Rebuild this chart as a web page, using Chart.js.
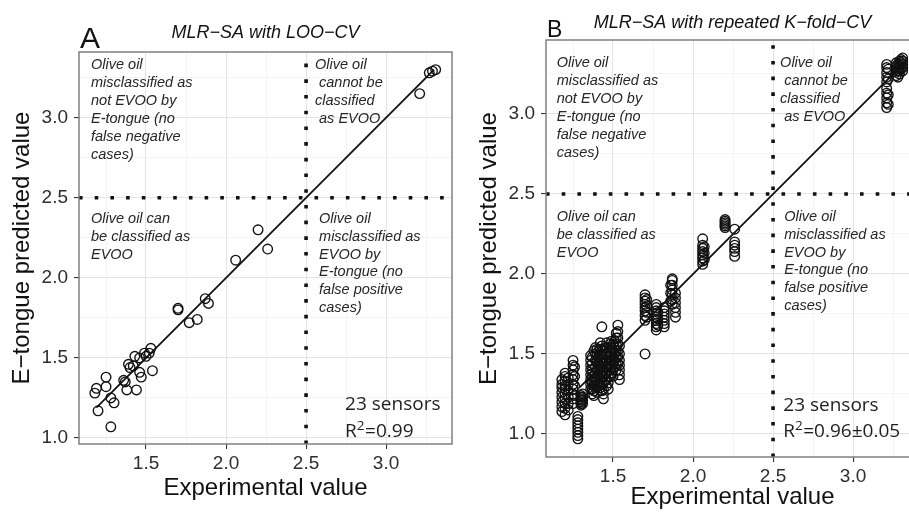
<!DOCTYPE html>
<html>
<head>
<meta charset="utf-8">
<script src="https://cdn.jsdelivr.net/npm/chart.js@4.4.1/dist/chart.umd.min.js"></script>
<style>
  html, body { margin: 0; padding: 0; background: #fff; overflow: hidden; }
  #wrap { position: relative; width: 909px; height: 512px; overflow: hidden; }
  #panelA { position: absolute; left: 0; top: 0; }
  #panelB { position: absolute; left: 467px; top: 0; }
</style>
</head>
<body>
<div id="wrap">
  <canvas id="panelA" width="460" height="512"></canvas>
  <canvas id="panelB" width="460" height="512"></canvas>
</div>
<script>
// A: leave-one-out predictions, one per sample
const looX = [1.18, 1.19, 1.20, 1.25, 1.25, 1.28, 1.28, 1.30, 1.36, 1.37, 1.38, 1.39, 1.40, 1.42, 1.43, 1.44, 1.46, 1.46, 1.47, 1.49,
  1.50, 1.52, 1.53, 1.54, 1.70, 1.70, 1.77, 1.82, 1.87, 1.89, 2.06, 2.20, 2.26, 3.21, 3.27, 3.29, 3.31];
const looY = [1.28, 1.31, 1.17, 1.38, 1.32, 1.25, 1.07, 1.22, 1.36, 1.35, 1.30, 1.46, 1.44, 1.45, 1.51, 1.30, 1.50, 1.41, 1.38, 1.53,
  1.51, 1.53, 1.56, 1.42, 1.80, 1.81, 1.72, 1.74, 1.87, 1.84, 2.11, 2.30, 2.18, 3.15, 3.28, 3.29, 3.30];

// B: repeated k-fold, a column of predictions for each sample
const kfoldX = [1.18, 1.20, 1.22, 1.25, 1.26, 1.28, 1.30, 1.31, 1.36, 1.37, 1.38, 1.39, 1.40, 1.41, 1.42, 1.43, 1.44, 1.45,
  1.46, 1.47, 1.48, 1.49, 1.50, 1.51, 1.52, 1.53, 1.54, 1.70, 1.71, 1.77, 1.78, 1.82, 1.86, 1.87, 1.89, 2.06, 2.07,
  2.20, 2.26, 3.21, 3.22, 3.27, 3.28, 3.29, 3.30, 3.31];
const kfoldY = [
  [1.14, 1.17, 1.20, 1.23, 1.26, 1.29, 1.31, 1.34],
  [1.12, 1.16, 1.19, 1.22, 1.25, 1.28, 1.30, 1.33, 1.36, 1.38],
  [1.15, 1.19, 1.23, 1.27, 1.31, 1.35],
  [1.19, 1.22, 1.25, 1.28, 1.31, 1.34, 1.37, 1.40, 1.43, 1.46],
  [1.24, 1.30, 1.36, 1.42],
  [0.97, 0.99, 1.01, 1.03, 1.05, 1.07, 1.09, 1.11],
  [1.18, 1.19, 1.20, 1.21, 1.22, 1.23, 1.24],
  [1.19, 1.21, 1.23, 1.25],
  [1.28, 1.31, 1.34, 1.37, 1.40, 1.43, 1.46, 1.49],
  [1.25, 1.28, 1.32, 1.36, 1.40, 1.44, 1.48],
  [1.24, 1.27, 1.30, 1.33, 1.36, 1.52],
  [1.30, 1.34, 1.38, 1.42, 1.46, 1.50, 1.54],
  [1.26, 1.30, 1.35, 1.40, 1.45, 1.49, 1.53],
  [1.32, 1.36, 1.40, 1.44, 1.48, 1.52],
  [1.29, 1.33, 1.37, 1.41, 1.45, 1.49, 1.53, 1.57],
  [1.27, 1.31, 1.36, 1.40, 1.44, 1.48, 1.52, 1.55, 1.67],
  [1.22, 1.25, 1.28, 1.32, 1.36, 1.40, 1.45],
  [1.34, 1.38, 1.42, 1.46, 1.50, 1.54],
  [1.30, 1.34, 1.38, 1.42, 1.46, 1.50, 1.54, 1.57],
  [1.28, 1.32, 1.36, 1.40, 1.44, 1.48],
  [1.36, 1.40, 1.44, 1.48, 1.52, 1.56],
  [1.38, 1.42, 1.46, 1.50, 1.54, 1.58],
  [1.36, 1.40, 1.44, 1.48, 1.52, 1.56],
  [1.42, 1.46, 1.50, 1.54, 1.58],
  [1.40, 1.44, 1.48, 1.52, 1.56, 1.60, 1.63],
  [1.44, 1.48, 1.52, 1.56, 1.60, 1.64, 1.68],
  [1.34, 1.37, 1.40, 1.43, 1.46, 1.50, 1.55],
  [1.50, 1.71, 1.74, 1.77, 1.79, 1.81, 1.83, 1.85, 1.87],
  [1.73, 1.76, 1.80, 1.84],
  [1.65, 1.67, 1.69, 1.71, 1.73, 1.75, 1.77, 1.79, 1.81],
  [1.68, 1.72, 1.76],
  [1.67, 1.69, 1.71, 1.73, 1.75, 1.77, 1.79],
  [1.83, 1.88, 1.93],
  [1.81, 1.84, 1.87, 1.90, 1.93, 1.96, 1.97],
  [1.73, 1.76, 1.79, 1.82, 1.85, 1.88],
  [2.06, 2.08, 2.10, 2.12, 2.14, 2.16, 2.18, 2.22],
  [2.09, 2.13, 2.17],
  [2.29, 2.30, 2.31, 2.32, 2.33, 2.34],
  [2.11, 2.14, 2.16, 2.18, 2.20, 2.28],
  [3.04, 3.07, 3.10, 3.13, 3.16, 3.20, 3.23, 3.26, 3.29, 3.31],
  [3.06, 3.12, 3.22, 3.28],
  [3.24, 3.26, 3.28, 3.30, 3.32],
  [3.23, 3.27, 3.31],
  [3.25, 3.27, 3.29, 3.31, 3.33],
  [3.28, 3.32, 3.34],
  [3.27, 3.29, 3.31, 3.33, 3.35]
];

const cutoff = 2.5;
const fitA = [1.19, 3.30];
const fitB = [1.29, 3.27];

const notesUL = ['Olive oil', 'misclassified as', 'not EVOO by', 'E-tongue (no', 'false negative', 'cases)'];
const notesUR = ['Olive oil', ' cannot be', 'classified', ' as EVOO'];
const notesLL = ['Olive oil can', 'be classified as', 'EVOO'];
const notesLR = [' Olive oil', ' misclassified as', ' EVOO by', ' E-tongue (no', ' false positive', ' cases)'];

const SANS = '"Liberation Sans", Arial, sans-serif';
const isMajor = v => Math.abs(v * 2 - Math.round(v * 2)) < 1e-6;

function axisOpts(range, label, horiz, p) {
  return {
    type: 'linear',
    min: range[0],
    max: range[1],
    border: { display: false },
    grid: {
      color: c => c.tick && isMajor(c.tick.value) ? '#e4e4e4' : '#f1f1f1',
      lineWidth: c => c.tick && isMajor(c.tick.value) ? 1.1 : 0.8,
      tickColor: c => c.tick && isMajor(c.tick.value) ? '#333' : 'rgba(0,0,0,0)',
      tickWidth: 1.1,
      tickLength: 5
    },
    ticks: {
      stepSize: 0.25,
      includeBounds: false,
      maxTicksLimit: 40,
      autoSkip: false,
      maxRotation: 0,
      minRotation: 0,
      padding: horiz ? 3 : 6,
      color: '#2e2e2e',
      font: { family: SANS, size: 19 },
      callback: v => isMajor(v) ? v.toFixed(1) : ''
    },
    title: {
      display: true,
      text: label,
      color: '#111',
      font: { family: SANS, size: 24 },
      padding: horiz ? { top: 0, bottom: p.xTitlePad } : { top: 7.6, bottom: 0 }
    },
    afterFit: s => {
      if (horiz) s.height = p.xAxisHeight;
      else s.width = 79;
    }
  };
}

function drawStats(ctx, x, y, r2) {
  ctx.font = '19px "Open Sans", sans-serif';
  ctx.fillText('23 sensors', x, y);
  const y2 = y + 26.7;
  ctx.fillText('R', x, y2);
  let cx = x + ctx.measureText('R').width;
  ctx.font = '13.5px "Open Sans", sans-serif';
  ctx.fillText('2', cx, y2 - 6);
  cx += ctx.measureText('2').width + 0.5;
  ctx.font = '19px "Open Sans", sans-serif';
  ctx.fillText('=' + r2, cx, y2);
}

function panel(id, p) {
  const decor = {
    id: 'decor' + id,
    afterDatasetsDraw(chart) {
      const { ctx, scales: { x, y } } = chart;
      ctx.save();
      ctx.fillStyle = '#262626';
      ctx.textBaseline = 'middle';
      ctx.textAlign = 'left';
      ctx.font = 'italic 14.5px ' + SANS;
      p.notes.forEach(n => {
        const px = x.getPixelForValue(n.at[0]);
        const py = y.getPixelForValue(n.at[1]);
        n.lines.forEach((t, i) => ctx.fillText(t, px, py + i * 17.9));
      });
      ctx.fillStyle = '#1e1e1e';
      drawStats(ctx, x.getPixelForValue(p.stats[0]), y.getPixelForValue(p.stats[1]), p.r2);
      ctx.restore();
    },
    afterDraw(chart) {
      const { ctx, chartArea: a } = chart;
      ctx.save();
      ctx.strokeStyle = '#808080';
      ctx.lineWidth = 1.5;
      ctx.strokeRect(a.left, a.top, a.right - a.left, a.bottom - a.top);
      ctx.fillStyle = '#111';
      ctx.textBaseline = 'alphabetic';
      ctx.textAlign = 'left';
      ctx.font = p.letterSize + 'px ' + SANS;
      ctx.fillText(p.letter, 80, p.letterBase);
      ctx.textAlign = 'center';
      ctx.font = 'italic 18px ' + SANS;
      ctx.fillText(p.title, (a.left + a.right) / 2, p.titleBase);
      ctx.restore();
    }
  };

  const dotted = { showLine: true, borderColor: '#111', borderWidth: 3.6, borderDash: [3.6, 12.1], pointRadius: 0 };

  return new Chart(document.getElementById(id), {
    type: 'scatter',
    data: {
      datasets: [
        {
          data: p.points,
          pointRadius: 4.8,
          pointBorderWidth: 1.35,
          pointBorderColor: '#111',
          pointBackgroundColor: 'rgba(0,0,0,0)'
        },
        {
          data: p.fit.map(v => ({ x: v, y: v })),
          showLine: true,
          borderColor: '#111',
          borderWidth: 1.8,
          pointRadius: 0
        },
        Object.assign({ data: [{ x: p.xRange[0], y: cutoff }, { x: p.xRange[1], y: cutoff }] }, dotted),
        Object.assign({ data: [{ x: cutoff, y: p.yRange[0] }, { x: cutoff, y: p.yRange[1] }] }, dotted)
      ]
    },
    options: {
      responsive: false,
      animation: false,
      events: [],
      layout: { padding: { left: 0, top: p.top, right: 8, bottom: 0 } },
      plugins: { legend: { display: false }, tooltip: { enabled: false } },
      scales: {
        x: axisOpts(p.xRange, 'Experimental value', true, p),
        y: axisOpts(p.yRange, 'E\u2212tongue predicted value', false, p)
      }
    },
    plugins: [decor]
  });
}

panel('panelA', {
  points: looX.map((x, i) => ({ x, y: looY[i] })),
  fit: fitA,
  xRange: [1.081, 3.412],
  yRange: [0.9625, 3.41],
  top: 52,
  xAxisHeight: 68,
  xTitlePad: 9.6,
  letter: 'A', letterSize: 30, letterBase: 48,
  title: 'MLR\u2212SA with LOO\u2212CV', titleBase: 38.3,
  notes: [
    { at: [1.156, 3.327], lines: notesUL },
    { at: [2.556, 3.327], lines: notesUR },
    { at: [1.156, 2.369], lines: notesLL },
    { at: [2.556, 2.369], lines: notesLR }
  ],
  stats: [2.744, 1.206], r2: '0.99'
});

panel('panelB', {
  points: kfoldX.flatMap((x, i) => kfoldY[i].map(y => ({ x, y }))),
  fit: fitB,
  xRange: [1.081, 3.412],
  yRange: [0.856, 3.4625],
  top: 40,
  xAxisHeight: 55,
  xTitlePad: 0,
  letter: 'B', letterSize: 23, letterBase: 37,
  title: 'MLR\u2212SA with repeated K\u2212fold\u2212CV', titleBase: 28.3,
  notes: [
    { at: [1.148, 3.317], lines: notesUL },
    { at: [2.544, 3.317], lines: notesUR },
    { at: [1.148, 2.358], lines: notesLL },
    { at: [2.544, 2.358], lines: notesLR }
  ],
  stats: [2.564, 1.18], r2: '0.96\u00b10.05'
});
</script>
</body>
</html>
